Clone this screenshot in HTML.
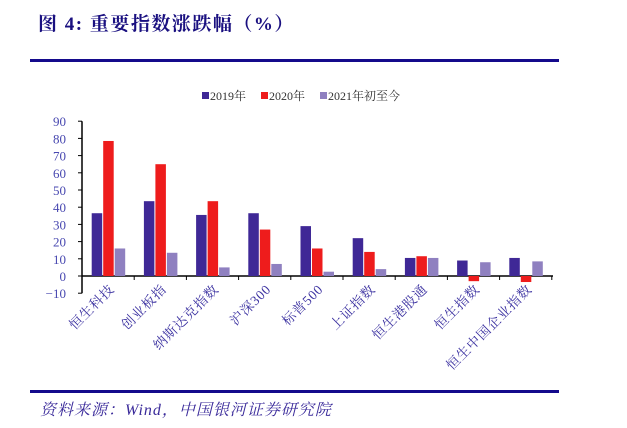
<!DOCTYPE html>
<html><head><meta charset="utf-8"><style>
body{margin:0;background:#fff;width:627px;height:428px;overflow:hidden;position:relative;font-family:"Liberation Serif","Noto Serif CJK SC",serif}
</style></head><body>
<svg width="627" height="428" xmlns="http://www.w3.org/2000/svg" style="position:absolute;left:0;top:0">
<text x="38" y="30" font-size="19" font-weight="bold" fill="#1a1080" letter-spacing="1.5" font-family="Liberation Serif,Noto Serif CJK SC,serif">图 4:  重要指数涨跌幅（%）</text>
<rect x="30" y="59" width="529" height="3" fill="#140a8c"/>
<rect x="30" y="390" width="529" height="3" fill="#140a8c"/>
<text x="40" y="415" font-size="16" font-style="italic" fill="#3a2a9a" letter-spacing="1" font-family="Liberation Serif,Noto Serif CJK SC,serif">资料来源：Wind，中国银河证券研究院</text>
<g font-size="12" fill="#333" font-family="Liberation Serif,Noto Serif CJK SC,serif">
<rect x="202" y="92" width="7" height="7" fill="#3f2896"/><text x="210" y="100">2019年</text>
<rect x="261" y="92" width="7" height="7" fill="#ee1c1c"/><text x="269" y="100">2020年</text>
<rect x="320" y="92" width="7" height="7" fill="#8f80c0"/><text x="328" y="100">2021年初至今</text>
</g>
<g id="c"></g>
</svg>
<script>
const s=document.querySelector('#c');const ns='http://www.w3.org/2000/svg';
function el(t,a,txt){const e=document.createElementNS(ns,t);for(const k in a)e.setAttribute(k,a[k]);if(txt!==undefined)e.textContent=txt;s.appendChild(e);return e;}
const y0=276,k=1.72,x0=82,cw=52.2;
const Y=v=>y0-v*k;
for(let v=-10;v<=90;v+=10){el('text',{x:66,y:Y(v)+5,'font-size':13,fill:'#4848b0','text-anchor':'end','font-family':'Liberation Serif,serif'},v<0?'−10':v);
el('line',{x1:x0-4,x2:x0,y1:Y(v),y2:Y(v),stroke:'#000'});}
el('line',{x1:x0,x2:x0,y1:Y(90),y2:Y(-10),stroke:'#000','stroke-width':1.5});
el('line',{x1:x0,x2:553,y1:y0,y2:y0,stroke:'#000','stroke-width':1.5});
const names=['恒生科技','创业板指','纳斯达克指数','沪深300','标普500','上证指数','恒生港股通','恒生指数','恒生中国企业指数'];
const d=[[36.5,78.5,16],[43.5,65,13.5],[35.5,43.5,5],[36.5,27,7],[29,16,2.5],[22,14,4],[10.5,11.5,10.5],[9,-3,8],[10.5,-3.5,8.5]];
const col=['#3f2896','#ee1c1c','#8f80c0'];
d.forEach((g,i)=>{const gx=x0+i*cw;
el('line',{x1:gx+cw,x2:gx+cw,y1:y0,y2:y0+4,stroke:'#000'});
g.forEach((v,j)=>{const bx=gx+9.7+j*11.5;el('rect',{x:bx,y:Math.min(Y(v),y0),width:10.5,height:Math.abs(v*k),fill:col[j]});});
const lx=gx+cw/2+7,ly=y0+14;
el('text',{x:lx,y:ly,'font-size':13.5,fill:'#3a30a0','text-anchor':'end','letter-spacing':'0.8',transform:`rotate(-45 ${lx} ${ly})`,'font-family':'Liberation Serif,Noto Serif CJK SC,serif'},names[i]);
});
</script>
</body></html>
